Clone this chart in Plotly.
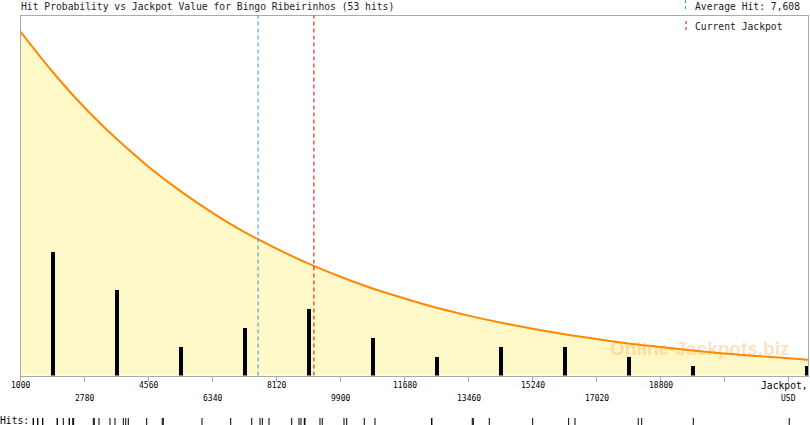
import plotly.graph_objects as go

# ---------------- data ----------------
title_text = "Hit Probability vs Jackpot Value for Bingo Ribeirinhos (53 hits)"
average_hit = 7608
current_jackpot = 9160

# histogram of hits (bin width 1780, starting at 1000); last bin drawn at the right edge
bar_positions = [1890, 3670, 5450, 7230, 9010, 10790, 12570, 14350, 16130, 17910, 19690, 22850]
hit_counts = [13, 9, 3, 5, 7, 4, 2, 3, 3, 2, 1, 1]

# hit probability curve (probability that the jackpot reaches the value)
curve_x = [1000, 1890, 2780, 3670, 4560, 5450, 6340, 7230, 8120, 9010, 9900,
           10790, 11680, 12570, 13460, 14350, 15240, 16130, 17020, 17910, 18800,
           19690, 20580, 21470, 22360, 22900]
curve_p = [1.000, 0.883, 0.779, 0.688, 0.607, 0.536, 0.473, 0.417, 0.369, 0.325, 0.287,
           0.253, 0.224, 0.197, 0.174, 0.154, 0.136, 0.120, 0.106, 0.093, 0.083,
           0.073, 0.064, 0.057, 0.050, 0.046]

# individual hits (rug)
hits = [1356, 1356, 1478, 1478, 1617, 1617, 2023, 2023, 2190, 2357, 2357, 2452, 2479,
        3025, 3052, 3183, 3489, 3628, 3859, 3926, 3998, 4510,
        4943, 4971, 6048,
        6846, 7430, 7661, 7725, 7911,
        8542, 8745, 8801, 8893, 8912, 9329, 9393,
        9997, 10072, 10561, 10859,
        12435, 12440,
        13565, 13593, 14038,
        15244, 16245, 16421,
        18181, 18276,
        19711,
        22380]

tick_values = [1000, 2780, 4560, 6340, 8120, 9900, 11680, 13460, 15240, 17020, 18800, 20580, 22360]
tick_labels = ["1000", "2780", "4560", "6340", "8120", "9900", "11680", "13460",
               "15240", "17020", "18800", "", ""]

# ---------------- figure ----------------
W, H = 810, 425
def px(x):
    return x / W
def py(y):
    return (H - y) / H

X0, X1 = 1000, 22902
mono = "DejaVu Sans Mono"

fig = go.Figure()

fig.add_trace(go.Scatter(
    x=curve_x, y=curve_p, yaxis="y", mode="lines", line=dict(color="#ff8800", width=2, shape="spline"),
    fill="tozeroy", fillcolor="#fff8c8", hoverinfo="skip", showlegend=False))

fig.add_trace(go.Bar(
    x=bar_positions, y=hit_counts, yaxis="y2", width=85,
    marker=dict(color="#000000", line=dict(width=0)), showlegend=False))

fig.add_trace(go.Scatter(
    x=hits, y=[0.5] * len(hits), yaxis="y3", mode="markers",
    marker=dict(symbol="line-ns", size=7, line=dict(color="#000000", width=1)),
    showlegend=False, hoverinfo="x"))

fig.update_layout(
    width=W, height=H,
    margin=dict(l=0, r=0, t=0, b=0, pad=0),
    paper_bgcolor="white", plot_bgcolor="white",
    bargap=0,
    xaxis=dict(domain=[px(20.5), px(808)], range=[X0, X1], showgrid=False, zeroline=False,
               showline=True, linecolor="#aaaaaa", linewidth=1, mirror=True,
               tickvals=tick_values, ticks="outside", ticklen=5, tickcolor="#aaaaaa",
               showticklabels=False, anchor="y"),
    yaxis=dict(domain=[py(375.5), py(15.5)], range=[0, 360 / 344.0], showgrid=False, zeroline=False,
               showline=True, linecolor="#aaaaaa", linewidth=1, mirror=True,
               showticklabels=False, ticks=""),
    yaxis2=dict(overlaying="y", range=[0, 360 / 9.55], showgrid=False, zeroline=False,
                showline=False, showticklabels=False, ticks=""),
    yaxis3=dict(domain=[0, py(418)], range=[0, 1], showgrid=False, zeroline=False,
                showline=False, showticklabels=False, ticks="", anchor="x"),
)

shapes = [
    dict(type="line", xref="x", yref="y domain", x0=average_hit, x1=average_hit, y0=0, y1=1,
         line=dict(color="#2a9ad8", width=1, dash="4px,3px")),
    dict(type="line", xref="x", yref="y domain", x0=current_jackpot, x1=current_jackpot, y0=0, y1=1,
         line=dict(color="#dd0000", width=1, dash="4px,3px")),
    dict(type="line", xref="paper", yref="paper", x0=px(685.5), x1=px(685.5), y0=py(0), y1=py(12),
         line=dict(color="#2a9ad8", width=1, dash="3px,3px")),
    dict(type="line", xref="paper", yref="paper", x0=px(686), x1=px(686), y0=py(21), y1=py(33),
         line=dict(color="#dd0000", width=1, dash="3px,3px")),
]
fig.update_layout(shapes=shapes)

ann = []
ann.append(dict(text=title_text, xref="paper", yref="paper", x=px(19), y=py(6.5),
                xanchor="left", yanchor="middle", showarrow=False,
                font=dict(family=mono, size=9.7, color="#222222")))
ann.append(dict(text="Average Hit: 7,608", xref="paper", yref="paper", x=px(693), y=py(6.5),
                xanchor="left", yanchor="middle", showarrow=False,
                font=dict(family=mono, size=9.7, color="#222222")))
ann.append(dict(text="Current Jackpot", xref="paper", yref="paper", x=px(693), y=py(27),
                xanchor="left", yanchor="middle", showarrow=False,
                font=dict(family=mono, size=9.7, color="#222222")))
ann.append(dict(text="Hits:", xref="paper", yref="paper", x=px(-2), y=py(420.5),
                xanchor="left", yanchor="middle", showarrow=False,
                font=dict(family=mono, size=9.7, color="#000000")))
for i, (tv, tl) in enumerate(zip(tick_values, tick_labels)):
    if not tl:
        continue
    yy = 385.5 if i % 2 == 0 else 398.5
    ann.append(dict(text=tl, xref="x", yref="paper", x=tv, y=py(yy),
                    xanchor="center", yanchor="middle", showarrow=False,
                    font=dict(family=mono, size=8, color="#000000")))
ann.append(dict(text="Jackpot,", xref="paper", yref="paper", x=px(810), y=py(385.5),
                xanchor="right", yanchor="middle", showarrow=False,
                font=dict(family=mono, size=9.7, color="#000000")))
ann.append(dict(text="USD", xref="x", yref="paper", x=tick_values[-1], y=py(398.5),
                xanchor="center", yanchor="middle", showarrow=False,
                font=dict(family=mono, size=8, color="#000000")))
ann.append(dict(text="<b>Online-Jackpots.biz</b>", xref="paper", yref="paper", x=px(699), y=py(348),
                xanchor="center", yanchor="middle", showarrow=False,
                font=dict(family="Liberation Sans", size=19, color="rgba(255,150,40,0.30)")))
fig.update_layout(annotations=ann)

fig.write_html("out.html", config={"displayModeBar": False},
               post_script="document.body.style.margin='0';document.body.style.overflow='hidden';")
